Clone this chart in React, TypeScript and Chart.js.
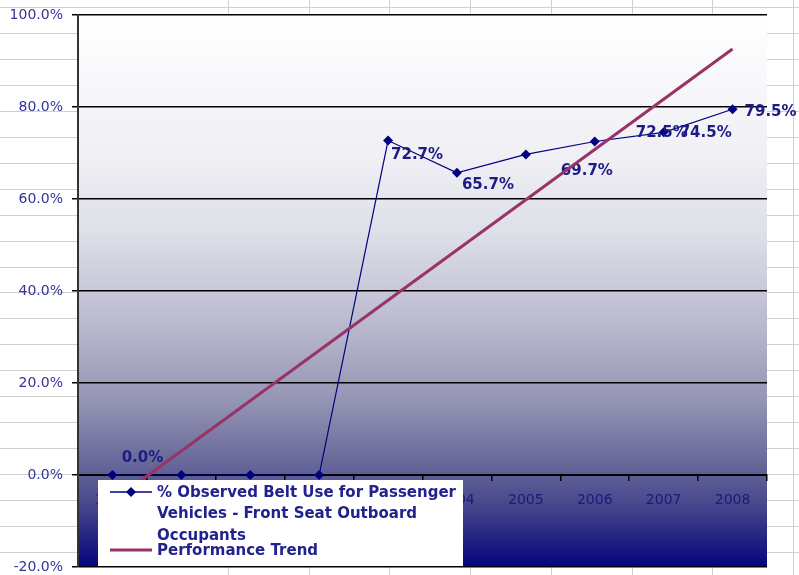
import React, { useEffect, useRef } from "react";
import { Chart, registerables } from "chart.js";

Chart.register(...registerables);

const years = ["1999", "2000", "2001", "2002", "2003", "2004", "2005", "2006", "2007", "2008"];
const beltUse = [0.0, 0.0, 0.0, 0.0, 72.7, 65.7, 69.7, 72.5, 74.5, 79.5];
const trendValues = [-5.7, null, null, null, null, null, null, null, null, 92.6];
const yTicks = [-20, 0, 20, 40, 60, 80, 100];
const seriesName = "% Observed Belt Use for Passenger Vehicles - Front Seat Outboard Occupants";
const trendName = "Performance Trend";

// styling: which point labels are shown and their offsets (px)
const labelShown = [true, false, false, false, true, true, true, true, true, true];
const labelOffsets: [number, number][] = [
  [30, -17], [0, 0], [0, 0], [0, 0], [29, 15], [31, 12], [61, 17], [67, -8], [42, 1], [38, 3],
];

const FONT = "'DejaVu Sans', 'Verdana', sans-serif";

const sheetPlugin = {
  id: "sheet",
  beforeDraw(chart: any) {
    const { ctx, width, height, chartArea } = chart;
    ctx.save();
    ctx.fillStyle = "#ffffff";
    ctx.fillRect(0, 0, width, height);
    ctx.strokeStyle = "#d0d0d0";
    ctx.lineWidth = 1;
    for (let k = 0; k < 24; k++) {
      const y = Math.round(7 + 25.95 * k) + 0.5;
      ctx.beginPath();
      ctx.moveTo(0, y);
      ctx.lineTo(width, y);
      ctx.stroke();
    }
    for (let k = 0; k < 8; k++) {
      const x = Math.round(228 + 80.7 * k) + 0.5;
      ctx.beginPath();
      ctx.moveTo(x, 0);
      ctx.lineTo(x, height);
      ctx.stroke();
    }
    const { left, top, right, bottom } = chartArea;
    const g = ctx.createLinearGradient(0, top, 0, bottom);
    g.addColorStop(0, "#ffffff");
    g.addColorStop(0.25, "#f0f0f5");
    g.addColorStop(0.4, "#dedee8");
    g.addColorStop(0.55, "#bcbcd0");
    g.addColorStop(0.7, "#9494b4");
    g.addColorStop(0.8, "#6c6c9c");
    g.addColorStop(0.88, "#4a4a8e");
    g.addColorStop(0.95, "#222282");
    g.addColorStop(1, "#050580");
    ctx.fillStyle = g;
    ctx.fillRect(left, top, right - left, bottom - top);
    ctx.restore();
  },
};

const labelPlugin = {
  id: "pointLabels",
  afterDatasetDraw(chart: any, args: any) {
    if (args.index !== 1) return;
    const { ctx } = chart;
    const meta = chart.getDatasetMeta(1);
    ctx.save();
    ctx.font = `bold 15px ${FONT}`;
    ctx.fillStyle = "#1c1c84";
    ctx.textAlign = "center";
    ctx.textBaseline = "middle";
    meta.data.forEach((pt: any, i: number) => {
      if (!labelShown[i]) return;
      const [dx, dy] = labelOffsets[i];
      ctx.fillText(beltUse[i].toFixed(1) + "%", pt.x + dx, pt.y + dy);
    });
    ctx.restore();
  },
};

const legendPlugin = {
  id: "customLegend",
  afterDraw(chart: any) {
    const { ctx } = chart;
    ctx.save();
    ctx.fillStyle = "#ffffff";
    ctx.fillRect(98, 480, 365, 86);
    // series sample
    ctx.strokeStyle = "#000080";
    ctx.lineWidth = 1.5;
    ctx.beginPath();
    ctx.moveTo(110, 492);
    ctx.lineTo(152, 492);
    ctx.stroke();
    ctx.fillStyle = "#000080";
    ctx.beginPath();
    ctx.moveTo(131, 487);
    ctx.lineTo(136, 492);
    ctx.lineTo(131, 497);
    ctx.lineTo(126, 492);
    ctx.closePath();
    ctx.fill();
    // trend sample
    ctx.strokeStyle = "#993366";
    ctx.lineWidth = 3;
    ctx.beginPath();
    ctx.moveTo(110, 550);
    ctx.lineTo(152, 550);
    ctx.stroke();
    ctx.font = `bold 15px ${FONT}`;
    ctx.fillStyle = "#22228e";
    ctx.textAlign = "left";
    ctx.textBaseline = "middle";
    const lines = ["% Observed Belt Use for Passenger", "Vehicles - Front Seat Outboard", "Occupants"];
    lines.forEach((t, i) => ctx.fillText(t, 157, 493 + i * 21.5));
    ctx.fillText(trendName, 157, 551);
    ctx.restore();
  },
};

export default function App() {
  const ref = useRef<HTMLCanvasElement>(null);
  useEffect(() => {
    if (!ref.current) return;
    const chart = new Chart(ref.current, {
      type: "line",
      data: {
        labels: years,
        datasets: [
          {
            label: trendName,
            data: trendValues,
            borderColor: "#993366",
            backgroundColor: "#993366",
            borderWidth: 3,
            pointRadius: 0,
            spanGaps: true,
            order: 0,
          },
          {
            label: seriesName,
            data: beltUse,
            borderColor: "#000080",
            backgroundColor: "#000080",
            borderWidth: 1.2,
            pointStyle: "rectRot",
            pointRadius: 5,
            pointBorderWidth: 0,
            order: 1,
          },
        ],
      },
      options: {
        responsive: false,
        animation: false,
        devicePixelRatio: 1,
        layout: { padding: { left: 0, top: 15, right: 32, bottom: 8 } },
        plugins: { legend: { display: false }, tooltip: { enabled: false } },
        scales: {
          x: {
            type: "category",
            offset: true,
            position: { y: 0 } as any,
            grid: {
              display: true,
              drawOnChartArea: false,
              drawTicks: true,
              tickLength: 5,
              offset: true,
              color: "#000000",
              lineWidth: 1.5,
            },
            border: { display: true, color: "#000000", width: 2 },
            ticks: {
              color: "#1a1a7a",
              font: { family: FONT, size: 14 },
              padding: 12,
              maxRotation: 0,
              autoSkip: false,
            },
            afterFit(scale: any) {
              scale.paddingLeft = 0;
              scale.paddingRight = 0;
            },
          },
          y: {
            min: -20,
            max: 100,
            afterBuildTicks(scale: any) {
              scale.ticks = yTicks.map((v) => ({ value: v }));
            },
            grid: {
              color: "#000000",
              lineWidth: 1.5,
              tickLength: 6,
              drawTicks: true,
            },
            border: { display: true, color: "#333333", width: 2 },
            ticks: {
              color: "#333399",
              font: { family: FONT, size: 14 },
              padding: 9,
              callback: (v: any) => Number(v).toFixed(1) + "%",
            },
            afterFit(scale: any) {
              scale.width = 78;
              scale.paddingTop = 0;
              scale.paddingBottom = 0;
            },
          },
        },
      },
      plugins: [sheetPlugin, labelPlugin, legendPlugin],
    });
    return () => chart.destroy();
  }, []);
  return (
    <div style={{ position: "absolute", left: 0, top: 0, width: 799, height: 575 }}>
      <canvas ref={ref} width={799} height={575} style={{ width: 799, height: 575, display: "block" }} />
    </div>
  );
}
